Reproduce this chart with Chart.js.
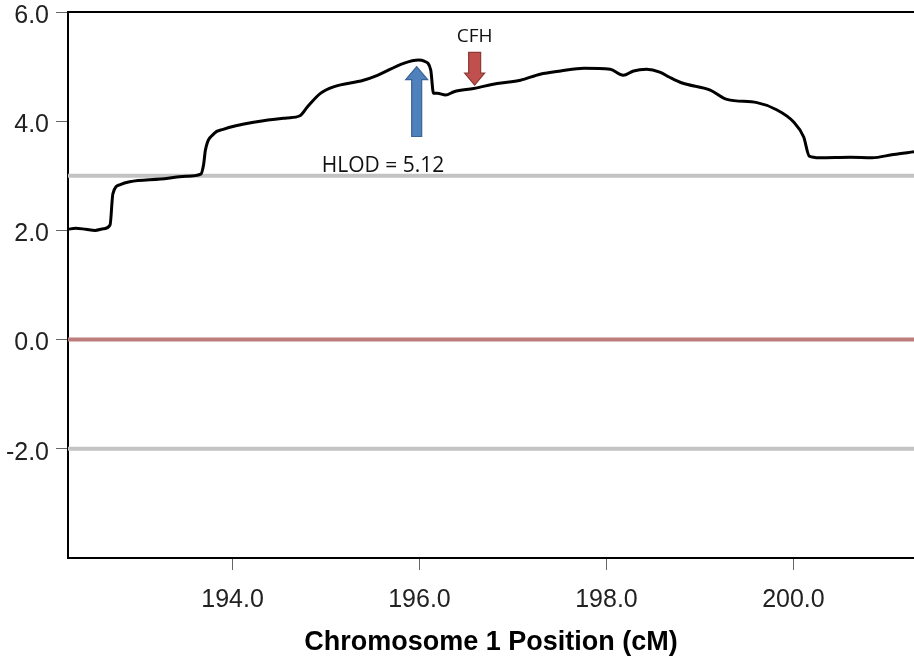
<!DOCTYPE html>
<html>
<head>
<meta charset="utf-8">
<script src="https://cdn.jsdelivr.net/npm/chart.js@4.4.0/dist/chart.umd.min.js"></script>
<style>
  html, body { margin: 0; padding: 0; background: #ffffff; }
  #wrap { width: 914px; height: 661px; position: relative; }
</style>
</head>
<body>
<div id="wrap"><canvas id="lodChart" width="914" height="661"></canvas></div>
<script>
// Linkage scan along chromosome 1: position (cM) and heterogeneity LOD score
const positionsCM = [
  192.24, 192.32, 192.43, 192.53, 192.62, 192.69, 192.72, 192.80, 192.90, 193.23,
  193.50, 193.66, 193.69, 193.71, 193.80, 193.90, 194.26, 194.58, 194.72, 194.80,
  194.94, 195.08, 195.40, 195.55, 195.83, 195.99, 196.05, 196.12, 196.15, 196.19,
  196.28, 196.37, 196.58, 196.83, 197.08, 197.29, 197.51, 197.76, 198.04, 198.18,
  198.29, 198.43, 198.57, 198.67, 198.81, 199.11, 199.29, 199.61, 199.82, 200.00,
  200.11, 200.17, 200.28, 200.61, 200.84, 201.07, 201.29
];
const hlodValues = [
  2.02, 2.04, 2.02, 2.00, 2.03, 2.10, 2.67, 2.84, 2.89, 2.94,
  2.99, 3.03, 3.20, 3.47, 3.77, 3.85, 3.99, 4.06, 4.10, 4.26,
  4.51, 4.63, 4.75, 4.84, 5.06, 5.12, 5.10, 4.94, 4.51, 4.51,
  4.48, 4.54, 4.60, 4.69, 4.75, 4.86, 4.92, 4.97, 4.95, 4.84,
  4.92, 4.95, 4.90, 4.81, 4.70, 4.57, 4.40, 4.34, 4.21, 3.99,
  3.71, 3.36, 3.33, 3.34, 3.33, 3.39, 3.44
];

// Axis extents and tick values
const xRange = [192.24, 201.29];
const yRange = [-4, 6];
const xTickValues = [194, 196, 198, 200];
const yTickValues = [-2, 0, 2, 4, 6];

// Reference LOD levels: significance threshold, zero line, exclusion threshold
const thresholdLevels = [3.0, -2.0];
const zeroLevel = [0.0];

// Marker arrows (cM, LOD from -> LOD to)
const peakArrow = { x: 195.97, from: 3.72, to: 5.00 };
const geneArrow = { x: 196.59, from: 5.26, to: 4.66 };
const geneName = 'CFH';
const peakLabelPos = { x: 195.61, y: 3.07 };
const geneLabelPos = { x: 196.59, y: 5.455 };

const peakHlod = Math.max(...hlodValues);
const peakLabel = 'HLOD = ' + peakHlod.toFixed(2);

const AXIS_FONT = '"Liberation Sans", Arial, sans-serif';
const NOTE_FONT = '"Open Sans", "Noto Sans", sans-serif';

function levelLine(level) {
  return [{ x: xRange[0], y: level }, { x: xRange[1], y: level }];
}

const datasets = [
  {
    label: 'HLOD',
    data: positionsCM.map((x, i) => ({ x, y: hlodValues[i] })),
    borderColor: '#000000',
    borderWidth: 3,
    pointRadius: 0,
    cubicInterpolationMode: 'monotone',
    order: 0
  },
  ...thresholdLevels.map(level => ({
    label: 'threshold ' + level,
    data: levelLine(level),
    borderColor: '#c3c3c3',
    borderWidth: 4,
    pointRadius: 0,
    order: 2
  })),
  ...zeroLevel.map(level => ({
    label: 'zero',
    data: levelLine(level),
    borderColor: '#bd7d7d',
    borderWidth: 4,
    pointRadius: 0,
    order: 1
  }))
];

// Frame line along the top of the plotting area
const topFrame = {
  id: 'topFrame',
  afterDraw(chart) {
    const { ctx, chartArea } = chart;
    ctx.save();
    ctx.strokeStyle = '#000000';
    ctx.lineWidth = 2;
    ctx.beginPath();
    ctx.moveTo(chartArea.left - 1, chartArea.top);
    ctx.lineTo(chartArea.right, chartArea.top);
    ctx.stroke();
    ctx.restore();
  }
};

function blockArrow(ctx, x, yStart, yTip, shaftHalf, headHalf, headLen, fill, stroke) {
  const dir = yTip < yStart ? -1 : 1;
  const headBase = yTip - dir * headLen;
  ctx.beginPath();
  ctx.moveTo(x - shaftHalf, yStart);
  ctx.lineTo(x - shaftHalf, headBase);
  ctx.lineTo(x - headHalf, headBase);
  ctx.lineTo(x, yTip);
  ctx.lineTo(x + headHalf, headBase);
  ctx.lineTo(x + shaftHalf, headBase);
  ctx.lineTo(x + shaftHalf, yStart);
  ctx.closePath();
  ctx.fillStyle = fill;
  ctx.fill();
  ctx.lineWidth = 1.2;
  ctx.strokeStyle = stroke;
  ctx.stroke();
}

// Arrows and labels marking the linkage peak and the candidate gene
const markers = {
  id: 'markers',
  afterDatasetsDraw(chart) {
    const { ctx } = chart;
    const xs = chart.scales.x, ys = chart.scales.y;
    ctx.save();
    blockArrow(ctx, xs.getPixelForValue(peakArrow.x),
      ys.getPixelForValue(peakArrow.from), ys.getPixelForValue(peakArrow.to),
      5, 11, 13, '#4f81bd', '#3a6394');
    blockArrow(ctx, xs.getPixelForValue(geneArrow.x),
      ys.getPixelForValue(geneArrow.from), ys.getPixelForValue(geneArrow.to),
      6, 10, 12, '#c0504d', '#8c3a37');
    ctx.fillStyle = '#111111';
    ctx.textAlign = 'center';
    ctx.textBaseline = 'alphabetic';
    ctx.font = '21px ' + NOTE_FONT;
    ctx.fillText(peakLabel, xs.getPixelForValue(peakLabelPos.x), ys.getPixelForValue(peakLabelPos.y));
    ctx.font = '19px ' + NOTE_FONT;
    ctx.fillText(geneName, xs.getPixelForValue(geneLabelPos.x), ys.getPixelForValue(geneLabelPos.y));
    ctx.restore();
  }
};

new Chart(document.getElementById('lodChart'), {
  type: 'line',
  data: { datasets },
  options: {
    responsive: false,
    animation: false,
    events: [],
    layout: { padding: { top: 12, right: 0, bottom: 0, left: 0 } },
    plugins: { legend: { display: false }, tooltip: { enabled: false } },
    scales: {
      x: {
        type: 'linear',
        min: xRange[0],
        max: xRange[1],
        afterBuildTicks: s => { s.ticks = xTickValues.map(v => ({ value: v })); },
        afterFit: s => { s.height = 103; s.paddingLeft = 0; s.paddingRight = 0; },
        ticks: {
          callback: v => Number(v).toFixed(1),
          font: { family: AXIS_FONT, size: 25 },
          color: '#222222',
          padding: 15,
          maxRotation: 0
        },
        grid: { drawOnChartArea: false, drawTicks: true, tickLength: 12, color: '#666666', lineWidth: 1 },
        border: { color: '#000000', width: 2 },
        title: {
          display: true,
          text: 'Chromosome 1 Position (cM)',
          font: { family: AXIS_FONT, size: 27, weight: 'bold' },
          color: '#000000',
          padding: { top: 4, bottom: 2 }
        }
      },
      y: {
        type: 'linear',
        min: yRange[0],
        max: yRange[1],
        afterBuildTicks: s => { s.ticks = yTickValues.map(v => ({ value: v })); },
        afterFit: s => { s.width = 68; s.paddingTop = 0; s.paddingBottom = 0; },
        ticks: {
          callback: v => Number(v).toFixed(1),
          font: { family: AXIS_FONT, size: 25 },
          color: '#222222',
          padding: 7,
          labelOffset: 4
        },
        grid: { drawOnChartArea: false, drawTicks: true, tickLength: 12, color: '#666666', lineWidth: 1 },
        border: { color: '#000000', width: 2 }
      }
    }
  },
  plugins: [topFrame, markers]
});
</script>
</body>
</html>
